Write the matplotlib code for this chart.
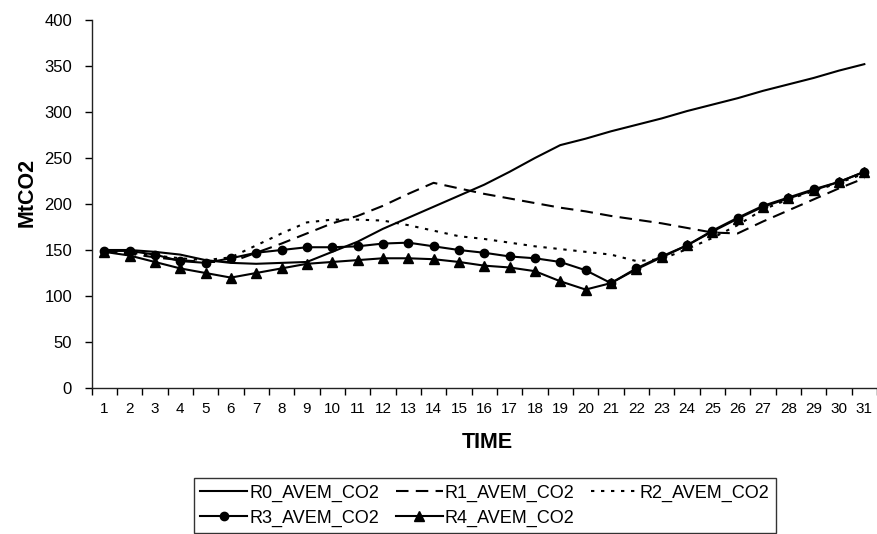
import matplotlib
matplotlib.use('Agg')
import matplotlib.pyplot as plt
import numpy as np

# time steps and emissions (MtCO2) per run
time = list(range(1, 32))
r0 = [150, 150, 148, 145, 139, 136, 135, 136, 137, 148, 159, 173, 185, 197, 209, 221,
      235, 250, 264, 271, 279, 286, 293, 301, 308, 315, 323, 330, 337, 345, 352]
r1 = [149, 146, 142, 139, 137, 137, 147, 157, 168, 179, 187, 198, 211, 223, 217, 211,
      206, 201, 196, 192, 187, 183, 179, 174, 169, 168, 181, 193, 205, 217, 228]
r2 = [149, 147, 144, 141, 139, 142, 155, 168, 180, 183, 183, 182, 177, 171, 165, 162,
      158, 154, 151, 148, 145, 138, 140, 151, 163, 177, 194, 205, 214, 223, 233]
r3 = [149, 149, 145, 138, 136, 141, 147, 150, 153, 153, 154, 157, 158, 154, 150, 147,
      143, 141, 137, 128, 114, 130, 143, 155, 171, 185, 198, 207, 216, 224, 235]
r4 = [148, 144, 137, 130, 125, 120, 125, 130, 135, 137, 139, 141, 141, 140, 137, 133,
      131, 127, 116, 107, 114, 129, 142, 155, 170, 184, 197, 206, 215, 224, 235]

labels = ['R0_AVEM_CO2', 'R1_AVEM_CO2', 'R2_AVEM_CO2', 'R3_AVEM_CO2', 'R4_AVEM_CO2']
yticks = [0, 50, 100, 150, 200, 250, 300, 350, 400]

plt.rcParams['font.family'] = ['Liberation Sans', 'DejaVu Sans']

fig = plt.figure(figsize=(8.77, 5.34), dpi=100)
ax = fig.add_axes([91.5 / 877, 1 - 388 / 534, 785.5 / 877, 368 / 534])

lw = 1.5
h0, = ax.plot(time, r0, color='black', lw=lw, label=labels[0])
h1, = ax.plot(time, r1, color='black', lw=lw, dashes=(6, 3.5), label=labels[1])
h2, = ax.plot(time, r2, color='black', lw=lw, dashes=(1.6, 3.2), label=labels[2])
h3, = ax.plot(time, r3, color='black', lw=lw, marker='o', markersize=6, label=labels[3])
h4, = ax.plot(time, r4, color='black', lw=lw, marker='^', markersize=7, label=labels[4])

ax.set_xlim(0.5, 31.5)
ax.set_ylim(0, 400)
ax.set_yticks(yticks)
ax.set_xticks(time)
ax.set_xticks(np.arange(0.5, 32, 1), minor=True)
ax.tick_params(axis='x', which='major', length=0, pad=10, labelsize=11)
ax.tick_params(axis='x', which='minor', length=5, width=1, direction='out')
ax.tick_params(axis='y', length=5, width=1, direction='out', pad=9, labelsize=12)

for side in ['top', 'right']:
    ax.spines[side].set_visible(False)
for side in ['left', 'bottom']:
    ax.spines[side].set_linewidth(1)
    ax.spines[side].set_color('#222222')

fig.text(27 / 877, 1 - 192 / 534, 'MtCO2', rotation=90, ha='center', va='center',
         fontsize=15.5, fontweight='bold')
fig.text(487 / 877, 1 - 443 / 534, 'TIME', ha='center', va='center',
         fontsize=15.5, fontweight='bold')

# matplotlib fills legend column by column; order so rows read R0 R1 R2 / R3 R4
order = [h0, h3, h1, h4, h2]
leg = fig.legend(order, [h.get_label() for h in order],
                 loc='upper left', bbox_to_anchor=(194 / 877, 0.0, 582 / 877, 1 - 478 / 534),
                 mode='expand', ncol=3, fontsize=13, frameon=True, fancybox=False,
                 borderaxespad=0, handlelength=2.6, handletextpad=0.1,
                 columnspacing=0.5, labelspacing=0.45, borderpad=0.35)
leg.get_frame().set_edgecolor('black')
leg.get_frame().set_linewidth(1)

fig.savefig('out.png', dpi=100)
